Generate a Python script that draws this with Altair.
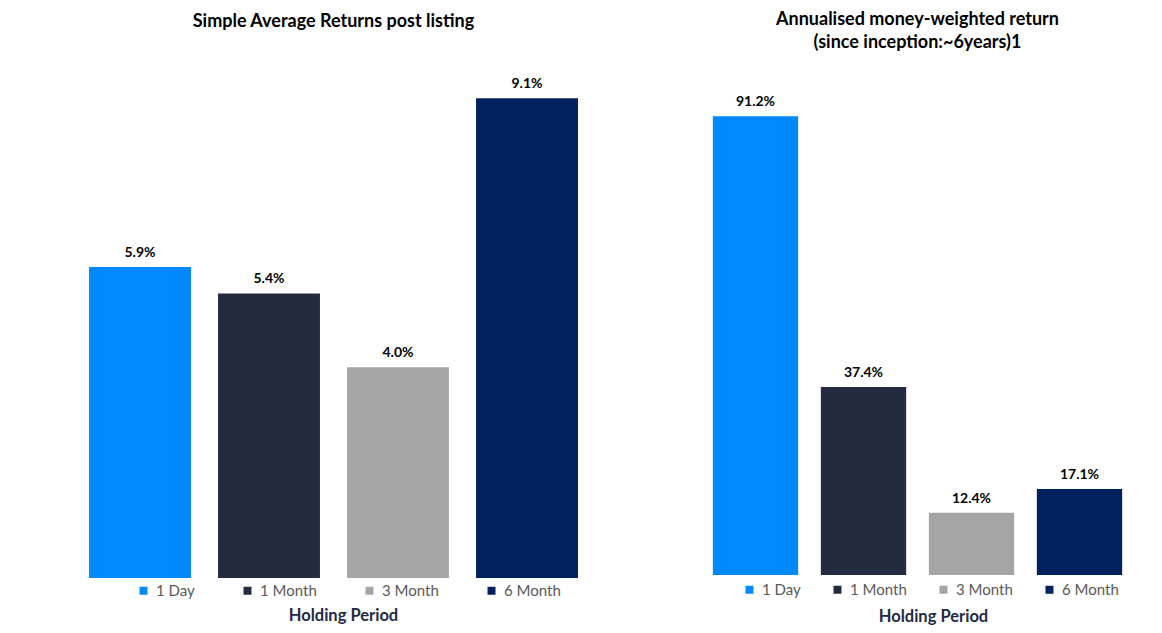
import altair as alt
import pandas as pd

periods = ["1 Day", "1 Month", "3 Month", "6 Month"]
simple_avg = [5.9, 5.4, 4.0, 9.1]
mwr = [91.2, 37.4, 12.4, 17.1]
labels_simple = ["5.9%", "5.4%", "4.0%", "9.1%"]
labels_mwr = ["91.2%", "37.4%", "12.4%", "17.1%"]
colors = ["#0089FA", "#232B41", "#A5A5A5", "#00215E"]
titles = [
    ["Simple Average Returns post listing"],
    ["Annualised money-weighted return", "(since inception:~6years)1"],
]
axis_title = "Holding Period"
FONT = "Lato"


def panel(values, labels, title_lines, width, height, ymax, title_offset,
          legend_x, legend_y, col_pad, title_x, title_y):
    df = pd.DataFrame({"period": periods, "value": values, "label": labels})
    color = alt.Color(
        "period:N",
        scale=alt.Scale(domain=periods, range=colors),
        legend=alt.Legend(
            title=None, orient="none", direction="horizontal",
            legendX=legend_x, legendY=legend_y, symbolType="square",
            symbolSize=64, symbolStrokeWidth=0, labelFontSize=15,
            labelColor="#595959", labelFont=FONT, columnPadding=col_pad,
            labelOffset=5, columns=4,
        ),
    )
    x = alt.X(
        "period:N", sort=periods,
        scale=alt.Scale(paddingInner=0.21, paddingOuter=0.105),
        axis=alt.Axis(
            labels=False, ticks=False, domain=False, title=axis_title,
            titleFont=FONT, titleFontSize=16.5, titleColor="#1F2A44",
            titleFontWeight="bold", titleX=title_x, titleY=title_y,
            titleBaseline="middle", titleAlign="center",
        ),
    )
    y = alt.Y("value:Q", scale=alt.Scale(domain=[0, ymax]), axis=None)
    base = alt.Chart(df).encode(x=x, y=y)
    bars = base.mark_bar().encode(color=color)
    text = base.mark_text(
        font=FONT, fontSize=14, fontWeight="bold", color="#000000",
        dy=-10, baseline="alphabetic",
    ).encode(text="label:N")
    return alt.layer(bars, text).properties(
        width=width, height=height,
        title=alt.Title(
            title_lines, font=FONT, fontSize=18, fontWeight="bold",
            color="#000000", anchor="middle", offset=title_offset,
            lineHeight=23,
        ),
    )


left = panel(simple_avg, labels_simple, titles[0], 516, 506, 9.6, 41,
             60.5, 511, 45, 267.5, 37)
right = panel(mwr, labels_mwr, titles[1], 432, 503, 100, 20,
              40.5, 510, 29, 231.5, 41)

chart = (
    alt.hconcat(left, right, spacing=110)
    .resolve_scale(color="independent", y="independent", x="independent")
    .resolve_legend(color="independent")
    .configure_view(stroke=None)
    .properties(padding={"left": 67.5, "top": 3, "right": 0, "bottom": 0})
)

chart.save("out.html", embed_options={"renderer": "svg", "actions": False})
